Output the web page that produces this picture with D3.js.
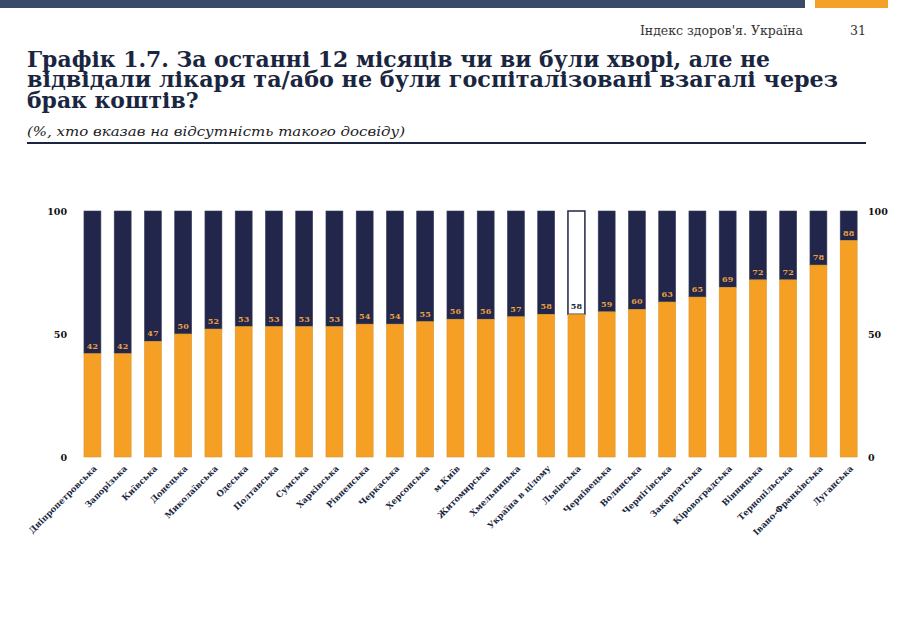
<!DOCTYPE html>
<html><head><meta charset="utf-8">
<script src="https://cdn.jsdelivr.net/npm/d3@7"></script>
<style>body{margin:0;background:#fff}svg{display:block}</style>
</head><body>
<script>
const categories = ["Дніпропетровська","Запорізька","Київська","Донецька","Миколаївська","Одеська","Полтавська","Сумська","Харківська","Рівненська","Черкаська","Херсонська","м.Київ","Житомирська","Хмельницька","Україна в цілому","Львівська","Чернівецька","Волинська","Чернігівська","Закарпатська","Кіровоградська","Вінницька","Тернопільська","Івано-Франківська","Луганська"];
const values = [42,42,47,50,52,53,53,53,53,54,54,55,56,56,57,58,58,59,60,63,65,69,72,72,78,88];
const highlight = "Львівська";
const yTicks = [0,50,100];

const W=900,H=620;
const svg=d3.select("body").append("svg").attr("width",W).attr("height",H);
const navy="#22264a", orange="#f5a024", textNavy="#1a2640";
const serif="'DejaVu Serif', serif";

// header
svg.append("rect").attr("x",0).attr("y",0).attr("width",805).attr("height",8).attr("fill","#3b4a66");
svg.append("rect").attr("x",815).attr("y",0).attr("width",73).attr("height",8).attr("fill","#f4a12a");
svg.append("text").attr("x",803).attr("y",35).attr("text-anchor","end").attr("font-family",serif).attr("font-size",12.5).attr("fill","#333").text("Індекс здоров'я. Україна");
svg.append("text").attr("x",866).attr("y",35).attr("text-anchor","end").attr("font-family",serif).attr("font-size",12.5).attr("fill","#333").text("31");

const titleLines=[["Графік 1.7. За останні 12 місяців чи ви були хворі, але не",67,743],["відвідали лікаря та/або не були госпіталізовані взагалі через",87,811],["брак коштів?",108,null]];
let sx=1;
titleLines.forEach(([t,y,w],i)=>{
  const tx=svg.append("text").attr("x",27).attr("y",y).attr("font-family",serif).attr("font-weight","bold").attr("font-size",23).attr("fill",textNavy).text(t);
  const nat=tx.node().getComputedTextLength();
  if(i===0) sx=w/nat;
  const target = w!==null ? w : nat*sx;
  tx.attr("textLength",target).attr("lengthAdjust","spacingAndGlyphs");
});
svg.append("text").attr("x",27).attr("y",136).attr("font-family",serif).attr("font-style","italic").attr("font-size",13.5).attr("fill","#222")
  .attr("textLength",378).attr("lengthAdjust","spacingAndGlyphs").text("(%, хто вказав на відсутність такого досвіду)");
svg.append("line").attr("x1",27).attr("x2",866).attr("y1",143).attr("y2",143).attr("stroke","#1a2640").attr("stroke-width",2);

// chart
const x=d3.scaleBand().domain(categories).range([77.3,863.8]).paddingInner(0.44).paddingOuter(0.22);
const y=d3.scaleLinear().domain([0,100]).range([457,211]);
const data=categories.map((c,i)=>({c,v:values[i]}));

const g=svg.append("g");
g.selectAll(".top").data(data).join("rect")
  .attr("x",d=>x(d.c)).attr("width",x.bandwidth())
  .attr("y",y(100)).attr("height",d=>y(d.v)-y(100))
  .attr("fill",d=>d.c===highlight?"#fff":navy)
  .attr("stroke",d=>d.c===highlight?navy:"#3a3f5c").attr("stroke-width",d=>d.c===highlight?1.5:0.6);
g.selectAll(".bot").data(data).join("rect")
  .attr("x",d=>x(d.c)).attr("width",x.bandwidth())
  .attr("y",d=>y(d.v)).attr("height",d=>y(0)-y(d.v))
  .attr("fill",orange).attr("stroke","#d9952e").attr("stroke-width",0.6);
g.selectAll(".lbl").data(data).join("text")
  .attr("x",d=>x(d.c)+x.bandwidth()/2).attr("y",d=>y(d.v)-5)
  .attr("text-anchor","middle").attr("font-family",serif).attr("font-weight","bold").attr("font-size",8)
  .attr("fill",d=>d.c===highlight?textNavy:"#e8a040").text(d=>d.v);

// y axes
const axL=svg.append("g").attr("transform","translate(67,0)").call(d3.axisLeft(y).tickValues(yTicks).tickSize(0).tickPadding(0));
const axR=svg.append("g").attr("transform","translate(868,0)").call(d3.axisRight(y).tickValues(yTicks).tickSize(0).tickPadding(0));
[axL,axR].forEach(a=>{a.select(".domain").remove();a.selectAll("text").attr("font-family",serif).attr("font-weight","bold").attr("font-size",9.5).attr("fill","#111");});
axL.selectAll("text").attr("text-anchor","end");

// x labels
const xa=svg.append("g").attr("transform","translate(0,461)").call(d3.axisBottom(x).tickSize(0).tickPadding(0));
xa.select(".domain").remove();
xa.selectAll("text").attr("font-family",serif).attr("font-weight","bold").attr("font-size",8.5).attr("fill",textNavy)
  .attr("text-anchor","end").attr("dy",0).attr("transform","translate(5,8) rotate(-45)");
</script>
</body></html>
